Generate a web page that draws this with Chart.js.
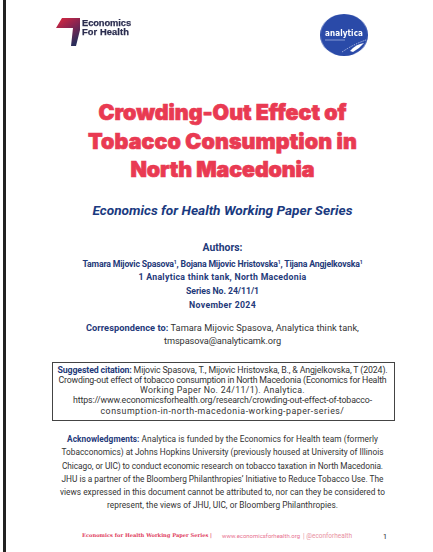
<!DOCTYPE html>
<html>
<head>
<meta charset="utf-8">
<script src="https://cdn.jsdelivr.net/npm/chart.js@4.4.1/dist/chart.umd.min.js"></script>
<style>
  html, body { margin: 0; padding: 0; background: #fff; }
  #page { position: relative; width: 433px; height: 552px; overflow: hidden; font-family: Roboto, "Liberation Sans", sans-serif; }
  .bar { position: absolute; left: 3px; top: 0; width: 3px; height: 552px; background: #222; }
  .ln { position: absolute; left: 6px; width: 433px; text-align: center; white-space: nowrap; line-height: 1; }
  .ln span.m { display: inline-block; }
  .left { text-align: left; width: auto; }
  .title { color: #e93a52; font-family: Inter, "Noto Sans", sans-serif; font-weight: 900; -webkit-text-stroke: 0.7px #e93a52; }
  .series { color: #1a3a80; font-weight: 700; font-style: italic; }
  .navy { color: #1f3a7a; font-weight: 700; }
  .body { color: #333; }
  .lbl { color: #1f3a7a; font-weight: 700; }
  sup { font-size: 0.6em; line-height: 0; vertical-align: 0.6em; }
  .box { position: absolute; left: 52px; top: 362px; width: 341px; height: 57px; border: 1px solid #444; }
  #efh { position: absolute; left: 54px; top: 15px; }
  .efh { color: #2b2d4f; font-weight: 700; font-family: "Liberation Sans", Arial, sans-serif; -webkit-text-stroke: 0.25px #2b2d4f; }
  #logoWrap { position: absolute; left: 320px; top: 14px; width: 48px; height: 42px; }
  #logo { width: 48px !important; height: 42px !important; }
  #logoText { position: absolute; left: 320px; top: 29px; width: 48px; text-align: center; color: #fff; font-weight: 700; font-size: 8px; line-height: 9px; font-family: "DejaVu Sans Condensed", "DejaVu Sans", sans-serif; letter-spacing: 0.1px; }
  #swoosh { position: absolute; left: 320px; top: 14px; }
  .footA { color: #e04060; font-family: "DejaVu Serif", serif; font-weight: 700; }
  .footB { color: #e87090; text-decoration: underline; }
  .footC { color: #e890a0; }
  .pnum { color: #222; }
</style>
</head>
<body>
<div id="page">
  <div class="bar"></div>

  <svg id="efh" width="28" height="34">
    <defs>
      <linearGradient id="g" x1="0" y1="0" x2="0.6" y2="1">
        <stop offset="0" stop-color="#e0283e"/>
        <stop offset="0.5" stop-color="#8a2450"/>
        <stop offset="1" stop-color="#2b2d5a"/>
      </linearGradient>
    </defs>
    <polygon points="8,3 26,3 26,15 22,31 17,31 19,13 2,13" fill="url(#g)"/>
  </svg>

  <div id="logoWrap"><canvas id="logo" width="42" height="42"></canvas></div>
  <div id="logoText">analytica</div>
  <svg id="swoosh" width="48" height="42">
    <line x1="5" y1="26" x2="25" y2="26" stroke="#9fb0e0" stroke-width="0.8"/>
    <path d="M22 38 Q34 30 46 26" stroke="#c8d2f0" stroke-width="1" stroke-dasharray="1 1" fill="none"/>
    <path d="M30 37 Q36 30 44 29 Q40 34 33 38 Z" fill="#fff"/>
  </svg>

  <div class="box"></div>
</div>

<script>
// texts of the page
const logoLines = ["Economics", "For Health"];
const titleLines = ["Crowding-Out Effect of", "Tobacco Consumption in", "North Macedonia"];
const seriesLines = ["Economics for Health Working Paper Series"];
const authorHead = ["Authors:"];
const authorLines = [
  "Tamara Mijovic Spasova<sup>1</sup>, Bojana Mijovic Hristovska<sup>1</sup>, Tijana Angjelkovska<sup>1</sup>",
  "1 Analytica think tank, North Macedonia",
  "Series No. 24/11/1",
  "November 2024"
];
const corrLines = [
  "<span class='lbl'>Correspondence to:</span> Tamara Mijovic Spasova, Analytica think tank,",
  "tmspasova@analyticamk.org"
];
const citationLines = [
  "<span class='lbl'>Suggested citation:</span> Mijovic Spasova, T., Mijovic Hristovska, B., &amp; Angjelkovska, T (2024).",
  "Crowding-out effect of tobacco consumption in North Macedonia (Economics for Health",
  "Working Paper No. 24/11/1). Analytica.",
  "https://www.economicsforhealth.org/research/crowding-out-effect-of-tobacco-",
  "consumption-in-north-macedonia-working-paper-series/"
];
const ackLines = [
  "<span class='lbl'>Acknowledgments:</span> Analytica is funded by the Economics for Health team (formerly",
  "Tobacconomics) at Johns Hopkins University (previously housed at University of Illinois",
  "Chicago, or UIC) to conduct economic research on tobacco taxation in North Macedonia.",
  "JHU is a partner of the Bloomberg Philanthropies’ Initiative to Reduce Tobacco Use. The",
  "views expressed in this document cannot be attributed to, nor can they be considered to",
  "represent, the views of JHU, UIC, or Bloomberg Philanthropies."
];
const footerParts = ["Economics for Health Working Paper Series |", "www.economicsforhealth.org", "| @econforhealth", "1"];
const logoValues = [1];
const logoColors = ["#2a4aa8"];

const page = document.getElementById("page");

// place a block of lines: one size for the block, then letter spacing evens each line to its width on the page
function placeBlock(lines, cls, firstY, stepY, widths, left) {
  const divs = lines.map(txt => {
    const d = document.createElement("div");
    d.className = "ln " + cls + (left != null ? " left" : "");
    d.style.fontSize = "10px";
    if (left != null) d.style.left = left + "px";
    d.innerHTML = `<span class="m">${txt}</span>`;
    page.appendChild(d);
    return d;
  });
  const measured = divs.reduce((s, d) => s + d.firstChild.getBoundingClientRect().width, 0);
  const target = widths.reduce((s, w) => s + w, 0);
  const size = 10 * target / measured;
  divs.forEach((d, i) => {
    d.style.fontSize = size + "px";
    d.style.top = (firstY + i * stepY - size / 2) + "px";
    const w = d.firstChild.getBoundingClientRect().width;
    const n = Math.max(1, d.textContent.length);
    d.firstChild.style.letterSpacing = ((widths[i] - w) / n) + "px";
  });
}

placeBlock(logoLines, "efh", 23.3, 9.8, [49, 47], 82);
placeBlock(titleLines, "title", 113, 28.2, [248, 269, 184]);
placeBlock(seriesLines, "series", 211, 0, [260]);
placeBlock(authorHead, "navy", 248, 0, [40]);
placeBlock(authorLines, "navy", 264, 13.7, [280, 168, 73, 67]);
placeBlock(corrLines, "body", 328, 12.3, [273, 117]);
placeBlock(citationLines, "body", 370, 10.25, [330, 328, 165, 299, 244]);
placeBlock(ackLines, "body", 439.3, 13.2, [311, 322, 321, 322, 325, 231]);
placeBlock([footerParts[0]], "footA", 536, 0, [130], 82);
placeBlock([footerParts[1]], "footB", 536, 0, [78], 222);
placeBlock([footerParts[2]], "footC", 536, 0, [49], 303);
placeBlock([footerParts[3]], "pnum", 536.5, 0, [4], 383);

// analytica logo drawn as a one-slice pie, stretched to an oval
new Chart(document.getElementById("logo"), {
  type: "pie",
  data: { labels: ["analytica"], datasets: [{ data: logoValues, backgroundColor: logoColors, borderWidth: 0 }] },
  options: {
    responsive: false,
    maintainAspectRatio: false,
    animation: false,
    layout: { padding: 0 },
    plugins: { legend: { display: false }, tooltip: { enabled: false } }
  }
});
</script>
</body>
</html>
